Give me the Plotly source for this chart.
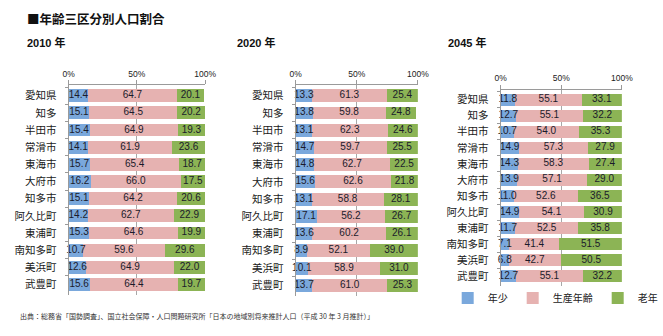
import plotly.graph_objects as go

categories = ["愛知県", "知多", "半田市", "常滑市", "東海市", "大府市", "知多市",
              "阿久比町", "東浦町", "南知多町", "美浜町", "武豊町"]
series_names = ["年少", "生産年齢", "老年"]
panel_titles = ["2010 年", "2020 年", "2045 年"]

young_2010 = [14.4, 15.1, 15.4, 14.1, 15.7, 16.2, 15.1, 14.2, 15.3, 10.7, 12.6, 15.6]
working_2010 = [64.7, 64.5, 64.9, 61.9, 65.4, 66.0, 64.2, 62.7, 64.6, 59.6, 64.9, 64.4]
old_2010 = [20.1, 20.2, 19.3, 23.6, 18.7, 17.5, 20.6, 22.9, 19.9, 29.6, 22.0, 19.7]

young_2020 = [13.3, 13.8, 13.1, 14.7, 14.8, 15.6, 13.1, 17.1, 13.6, 8.9, 10.1, 13.7]
working_2020 = [61.3, 59.8, 62.3, 59.7, 62.7, 62.6, 58.8, 56.2, 60.2, 52.1, 58.9, 61.0]
old_2020 = [25.4, 24.8, 24.6, 25.5, 22.5, 21.8, 28.1, 26.7, 26.1, 39.0, 31.0, 25.3]

young_2045 = [11.8, 12.7, 10.7, 14.9, 14.3, 13.9, 11.0, 14.9, 11.7, 7.1, 6.8, 12.7]
working_2045 = [55.1, 55.1, 54.0, 57.3, 58.3, 57.1, 52.6, 54.1, 52.5, 41.4, 42.7, 55.1]
old_2045 = [33.1, 32.2, 35.3, 27.9, 27.4, 29.0, 36.5, 30.9, 35.8, 51.5, 50.5, 32.2]

x_ticks = [0, 50, 100]
x_ticktext = ["0%", "50%", "100%"]

colors = ["#7aa8dc", "#e6b2b1", "#8cb455"]
W, H = 663, 336

panels = [
    (young_2010, working_2010, old_2010),
    (young_2020, working_2020, old_2020),
    (young_2045, working_2045, old_2045),
]
# pixel geometry (left, right, top, bottom) of each plot area
geom = [(65, 207, 85.2, 295.0), (301, 428, 85.2, 295.8), (514, 640, 89.8, 286.2)]
title_pos = [(20, 42), (238, 42), (457, 42)]

fig = go.Figure()
CJK = "Noto Sans CJK JP"
NUMFONT = dict(family="Liberation Sans, Arial", size=10, color="#1b1b2b")
for i, vals in enumerate(panels):
    sfx = "" if i == 0 else str(i + 1)
    for j, v in enumerate(vals):
        fig.add_trace(go.Bar(
            x=v, y=categories, orientation="h", name=series_names[j],
            marker=dict(color=colors[j], line=dict(width=0)),
            xaxis="x" + sfx, yaxis="y" + sfx, hoverinfo="x+name",
            showlegend=(i == 0), legendgroup=series_names[j],
        ))
    # value labels centred on each stacked segment
    for j, v in enumerate(vals):
        starts = [sum(vals[k][n] for k in range(j)) for n in range(len(categories))]
        mids = [s + x / 2 for s, x in zip(starts, v)]
        fig.add_trace(go.Scatter(
            x=mids, y=categories, mode="text", text=[f"{x:.1f}" for x in v],
            textposition="middle center", textfont=NUMFONT, cliponaxis=False,
            xaxis="x" + sfx, yaxis="y" + sfx, showlegend=False, hoverinfo="skip",
        ))
    l, r, t, b = geom[i]
    fig.update_layout(**{
        "xaxis" + sfx: dict(
            domain=[l / W, r / W], range=[0, 100], side="top",
            anchor="y" + sfx, tickvals=x_ticks, ticktext=x_ticktext,
            showline=True, linecolor="#9a9a9a", linewidth=1,
            ticks="outside", ticklen=4, tickcolor="#9a9a9a",
            showgrid=True, gridcolor="#a8a8a8", gridwidth=1, zeroline=False,
            tickfont=dict(family="Liberation Sans, Arial", size=8.5, color="#222"),
            fixedrange=True,
        ),
        "yaxis" + sfx: dict(
            domain=[(H - b) / H, (H - t) / H], autorange="reversed",
            anchor="x" + sfx, showline=True, linecolor="#9a9a9a", linewidth=1,
            ticks="outside", ticklen=3, tickcolor="#9a9a9a", tickson="boundaries",
            ticklabelstandoff=9,
            tickfont=dict(family=CJK, size=10.5, color="#1a1a1a"),
            showgrid=False, fixedrange=True,
        ),
    })

annotations = [dict(
    text="<b>■年齢三区分別人口割合</b>", x=20 / W, y=(H - 18) / H,
    xref="paper", yref="paper", xanchor="left", yanchor="middle", showarrow=False,
    font=dict(family=CJK, size=12.5, color="#111"))]
for k, (px, py) in enumerate(title_pos):
    annotations.append(dict(
        text="<b>" + panel_titles[k] + "</b>", x=px / W, y=(H - py) / H,
        xref="paper", yref="paper", xanchor="left", yanchor="middle", showarrow=False,
        font=dict(family="Liberation Sans Narrow, Liberation Sans, " + CJK, size=11, color="#111")))
annotations.append(dict(
    text="出典：総務省「国勢調査」、国立社会保障・人口問題研究所「日本の地域別将来推計人口（平成 30 年 3 月推計）」",
    x=12 / W, y=(H - 316) / H, xref="paper", yref="paper", xanchor="left", yanchor="middle",
    showarrow=False, font=dict(family=CJK, size=7, color="#333")))

fig.update_layout(
    width=W, height=H, margin=dict(l=0, r=0, t=0, b=0),
    paper_bgcolor="white", plot_bgcolor="white",
    barmode="stack", bargap=0.25,
    annotations=annotations,
    legend=dict(orientation="h", x=459 / W, y=(H - 298) / H, xanchor="left", yanchor="middle",
                font=dict(family=CJK, size=10, color="#222"), itemwidth=30,
                bgcolor="rgba(0,0,0,0)", traceorder="normal"),
    showlegend=True,
)
fig.write_html("out.html")
